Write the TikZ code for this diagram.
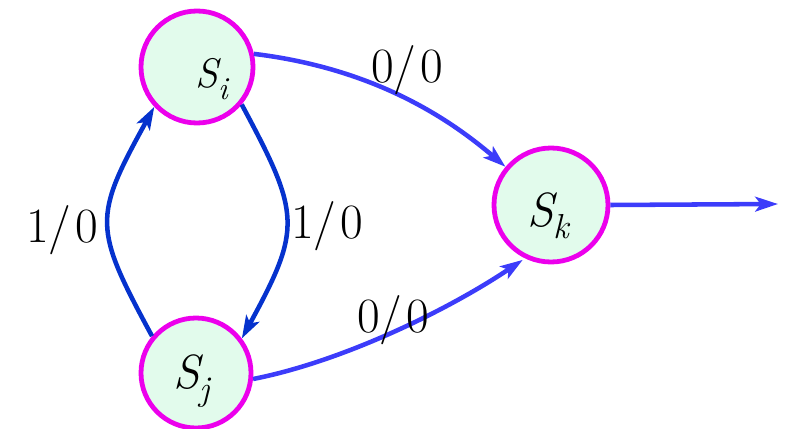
\documentclass[tikz,border=0pt]{standalone}
\usetikzlibrary{arrows.meta}
\definecolor{statefill}{RGB}{226,251,236}
\definecolor{stateline}{RGB}{236,0,236}
\definecolor{darkarc}{RGB}{5,50,205}
\definecolor{lightarc}{RGB}{60,60,250}
% state name: italic letter with a lowered italic index
\newcommand\statename[4]{{\fontsize{#1}{#1}\selectfont #3}\raisebox{-9pt}{\fontsize{#2}{#2}\selectfont #4}}
\begin{document}
\begin{tikzpicture}[x=0.75pt,y=-0.75pt,
  state/.style={circle,draw=stateline,fill=statefill,line width=3.6pt,inner sep=0pt},
  sname/.style={inner sep=0pt,anchor=base west,font=\itshape},
  lbl/.style={inner sep=0pt,anchor=base,font=\fontsize{37}{37}\selectfont},
  trans/.style={line width=3.4pt,-{Stealth[length=17pt,width=11pt,inset=4pt]}}]
\useasboundingbox (0,0) rectangle (802,428);

% states
\node[state,minimum size=84pt]   (si) at (197,67)  {};
\node[state,minimum size=82.5pt] (sj) at (196,373) {};
\node[state,minimum size=85.5pt] (sk) at (551,205) {};

\node[sname] (ti) at (195,88)  {\statename{31}{24}{S}{i}};
\node[sname] (tj) at (173,388) {\statename{36}{26}{S}{j}};
\node[sname] (tk) at (527,226) {\statename{36}{26}{S}{k}};

% transitions
\draw[trans,darkarc]  (sj.140) .. controls (93,227) and (93,218) .. (si.223);
\draw[trans,darkarc]  (si.-40) .. controls (301,215) and (302,228) .. (sj.37);
\draw[trans,lightarc] (si.13) .. controls (370,68) and (445,115) .. (sk.140);
\draw[trans,lightarc,shorten >=2pt] (sj.-6) .. controls (340,362) and (445,312) .. (sk.244);

\coordinate (out) at (778,204);
\draw[trans,lightarc] (sk.east) -- (out);

% transition labels
\node[lbl] (l1) at (62,242)  {1/\kern3pt0};
\node[lbl] (l2) at (327,238) {1/\kern3pt0};
\node[lbl] (l3) at (407,83)  {0/\kern3pt0};
\node[lbl] (l4) at (393,332) {0/\kern3pt0};
\end{tikzpicture}
\end{document}
